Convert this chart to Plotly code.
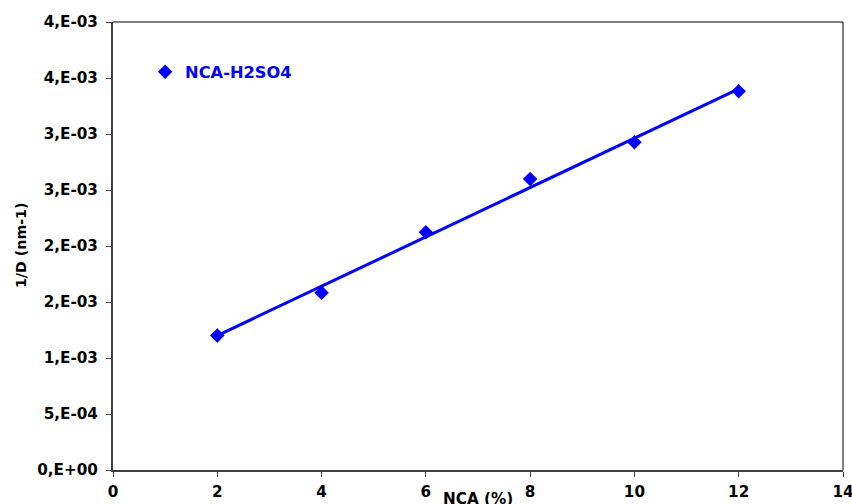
import numpy as np
import plotly.graph_objects as go

# Data
nca_pct = [2, 4, 6, 8, 10, 12]
inv_d = [0.001200, 0.001582, 0.002122, 0.002598, 0.002926, 0.003381]
series_name = "NCA-H2SO4"
y_tickvals = [0, 0.0005, 0.001, 0.0015, 0.002, 0.0025, 0.003, 0.0035, 0.004]
y_ticktext = ["0,E+00", "5,E-04", "1,E-03", "2,E-03", "2,E-03",
              "3,E-03", "3,E-03", "4,E-03", "4,E-03"]
x_tickvals = [0, 2, 4, 6, 8, 10, 12, 14]

# Linear trendline
slope, intercept = np.polyfit(nca_pct, inv_d, 1)
trend_x = [min(nca_pct), max(nca_pct)]
trend_y = [slope * v + intercept for v in trend_x]

FONT = "DejaVu Sans"
BLUE = "#0000FF"
S = 1.015  # compensation for capture scaling

fig = go.Figure()
fig.add_trace(go.Scatter(
    x=nca_pct, y=inv_d, mode="markers", name=series_name,
    marker=dict(symbol="diamond", size=11 * S, color=BLUE),
))
fig.add_trace(go.Scatter(
    x=trend_x, y=trend_y, mode="lines", showlegend=False,
    line=dict(color=BLUE, width=3 * S), hoverinfo="skip",
))

fig.update_layout(
    width=round(852 * S), height=round(504 * S),
    margin=dict(l=round(111 * S), r=round(11 * S), t=round(22 * S), b=round(34 * S)),
    paper_bgcolor="white", plot_bgcolor="white",
    font=dict(family=FONT, size=15 * S, color="black", weight="bold"),
    showlegend=True,
    legend=dict(
        x=0.044, y=0.888, xanchor="left", yanchor="middle",
        bgcolor="rgba(0,0,0,0)", borderwidth=0,
        font=dict(family=FONT, size=16 * S, color=BLUE, weight="bold"),
    ),
    xaxis=dict(
        range=[0, 14], tickvals=x_tickvals, ticks="outside", ticklen=5,
        tickcolor="#404040", showline=True, linecolor="#404040", linewidth=2,
        showgrid=False, zeroline=False, ticklabelstandoff=2,
        tickfont=dict(family=FONT, size=15 * S, color="black", weight="bold"),
    ),
    yaxis=dict(
        range=[0, 0.004], tickvals=y_tickvals, ticktext=y_ticktext,
        ticks="outside", ticklen=5, tickcolor="#404040",
        showline=True, linecolor="#404040", linewidth=2,
        showgrid=False, zeroline=False, ticklabelstandoff=5,
        tickfont=dict(family=FONT, size=15 * S, color="black", weight="bold"),
    ),
    shapes=[
        dict(type="line", xref="paper", yref="paper", x0=0, x1=1, y0=1, y1=1,
             line=dict(color="#808080", width=2)),
        dict(type="line", xref="paper", yref="paper", x0=1, x1=1, y0=0, y1=1,
             line=dict(color="black", width=1)),
    ],
    annotations=[
        dict(text="NCA (%)", xref="paper", yref="paper", x=0.5, y=-0.040,
             xanchor="center", yanchor="top", showarrow=False,
             font=dict(family=FONT, size=15 * S, color="black", weight="bold")),
        dict(text="1/D (nm-1)", xref="paper", yref="paper", x=-0.126, y=0.5,
             xanchor="center", yanchor="middle", textangle=-90, showarrow=False,
             font=dict(family=FONT, size=14 * S, color="black", weight="bold")),
    ],
)

fig.write_html(
    "out.html",
    config={"displayModeBar": False},
    post_script="document.body.style.margin='0';document.body.style.overflow='hidden';",
)
